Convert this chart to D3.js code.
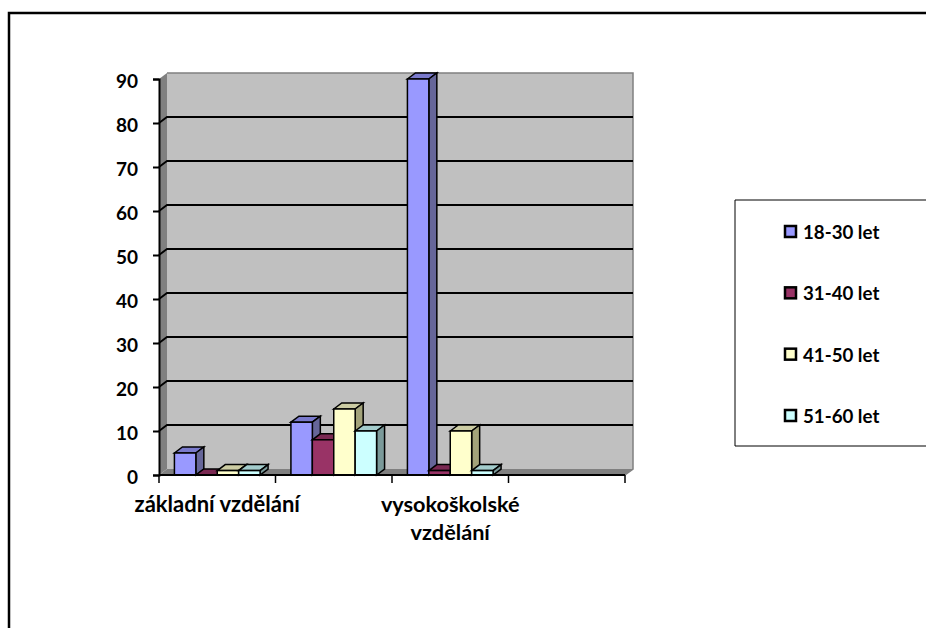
<!DOCTYPE html>
<html>
<head>
<meta charset="utf-8">
<script src="https://d3js.org/d3.v7.min.js"></script>
<style>
html, body { margin: 0; padding: 0; background: #fff; }
svg { display: block; }
text { font-family: Lato, sans-serif; font-weight: 700; fill: #000; }
</style>
</head>
<body>
<script>
// data
var categories = ["základní vzdělání", "", "vysokoškolské vzdělání", " "];
var seriesNames = ["18-30 let", "31-40 let", "41-50 let", "51-60 let"];
var s1830 = [5, 12, 90, null];
var s3140 = [0, 8, 1, null];
var s4150 = [1, 15, 10, null];
var s5160 = [1, 10, 1, null];
var yTicks = [0, 10, 20, 30, 40, 50, 60, 70, 80, 90];
var colors = ["#9999ff", "#993366", "#ffffcc", "#ccffff"];
var tops = ["#7a7acc", "#7a2952", "#ccccA3", "#a3cccc"];
var sides = ["#666699", "#5c1f3d", "#a3a37a", "#7a9999"];

var allSeries = [s1830, s3140, s4150, s5160];
var depthX = 8, depthY = 6;

var svg = d3.select("body").append("svg")
    .attr("width", 926)
    .attr("height", 628);

// outer frame, runs off the right and bottom of the picture
svg.append("path")
    .attr("d", "M9,640V13H940")
    .attr("fill", "none")
    .attr("stroke", "#000")
    .attr("stroke-width", 2.5);

var x = d3.scaleBand().domain(categories).range([159, 625]);
var y = d3.scaleLinear().domain([0, 90]).range([475, 79]);
var bars = d3.scaleBand().domain(d3.range(4)).range([0, x.bandwidth()]).paddingOuter(0.72).paddingInner(0);

// walls
var x0 = x.range()[0], x1 = x.range()[1], y0 = y(0), yTop = y(90);
svg.append("polygon")
    .attr("points", [[x0, y0], [x0 + depthX, y0 - depthY], [x0 + depthX, yTop - depthY], [x0, yTop]].join(" "))
    .attr("fill", "#808080");
svg.append("rect")
    .attr("x", x0 + depthX).attr("y", yTop - depthY)
    .attr("width", x1 - x0).attr("height", y0 - yTop)
    .attr("fill", "#c0c0c0");
svg.append("polygon")
    .attr("points", [[x0, y0], [x0 + depthX, y0 - depthY], [x1 + depthX, y0 - depthY], [x1, y0]].join(" "))
    .attr("fill", "#808080");
svg.append("path")
    .attr("d", "M" + (x0 + depthX) + "," + (yTop - depthY) + "H" + (x1 + depthX) + "V" + (y0 - depthY) + "L" + x1 + "," + y0)
    .attr("fill", "none")
    .attr("stroke", "#808080")
    .attr("stroke-width", 1.5);

// gridlines, bent down the side wall
svg.selectAll(".grid")
    .data(yTicks.filter(function(d) { return d != 0 && d != 90; }))
    .enter()
    .append("path")
    .attr("class", "grid")
    .attr("d", function(d) {
        return "M" + x0 + "," + y(d) + "l" + depthX + "," + (-depthY) + "H" + (x1 + depthX);
    })
    .attr("fill", "none")
    .attr("stroke", "#000")
    .attr("stroke-width", 1.8);

// y axis
var yAxis = svg.append("g")
    .attr("transform", "translate(" + x0 + ",0)")
    .call(d3.axisLeft(y).tickValues(yTicks).tickSize(6).tickPadding(15));
yAxis.selectAll("path, line").attr("stroke", "#000").attr("stroke-width", 2);
yAxis.selectAll("text")
    .attr("font-size", 19)
    .attr("dy", "0.45em")
    .style("font-family", "Lato, sans-serif")
    .style("font-weight", 700);

// bars
function line3d(g, color, top, side, bx, bw, by, bh) {
    g.append("polygon")
        .attr("points", [[bx, by], [bx + depthX, by - depthY], [bx + bw + depthX, by - depthY], [bx + bw, by]].join(" "))
        .attr("fill", top).attr("stroke", "#000").attr("stroke-width", 1.5);
    g.append("polygon")
        .attr("points", [[bx + bw, by], [bx + bw + depthX, by - depthY], [bx + bw + depthX, by + bh - depthY], [bx + bw, by + bh]].join(" "))
        .attr("fill", side).attr("stroke", "#000").attr("stroke-width", 1.5);
    g.append("rect")
        .attr("x", bx).attr("y", by).attr("width", bw).attr("height", bh)
        .attr("fill", color).attr("stroke", "#000").attr("stroke-width", 1.5);
}

categories.forEach(function(c, i) {
    allSeries.forEach(function(s, j) {
        if (s[i] === null) return;
        line3d(svg.append("g"), colors[j], tops[j], sides[j],
            x(c) + bars(j), bars.bandwidth(), y(s[i]), y(0) - y(s[i]));
    });
});

// x axis
svg.append("line")
    .attr("x1", x0).attr("x2", x1).attr("y1", y0).attr("y2", y0)
    .attr("stroke", "#000").attr("stroke-width", 2);
svg.selectAll(".xtick")
    .data(categories.map(function(c) { return x(c); }).concat([x1]))
    .enter()
    .append("line")
    .attr("x1", function(d) { return d; })
    .attr("x2", function(d) { return d; })
    .attr("y1", y0)
    .attr("y2", y0 + 8)
    .attr("stroke", "#000")
    .attr("stroke-width", 1.5);

// category labels, every other one is skipped like in the original
svg.append("text")
    .attr("x", x(categories[0]) + x.bandwidth() / 2).attr("y", 512)
    .attr("text-anchor", "middle").attr("font-size", 22)
    .text(categories[0]);
var lab = svg.append("text")
    .attr("text-anchor", "middle").attr("font-size", 21.7);
categories[2].split(" ").forEach(function(w, i) {
    lab.append("tspan")
        .attr("x", x(categories[2]) + x.bandwidth() / 2)
        .attr("y", 512 + i * 28)
        .text(w);
});

// legend
svg.append("path")
    .attr("d", "M940,200H735V446H940")
    .attr("fill", "#fff")
    .attr("stroke", "#000")
    .attr("stroke-width", 1);

var legendY = d3.scalePoint().domain(seriesNames).range([232, 416]);
var item = svg.selectAll(".legend")
    .data(seriesNames)
    .enter()
    .append("g")
    .attr("class", "legend")
    .attr("transform", function(d) { return "translate(785,"+ legendY(d) + ")"; });
item.append("rect")
    .attr("x", 0).attr("y", -6).attr("width", 11).attr("height", 11)
    .attr("fill", function(d, i) { return colors[i]; })
    .attr("stroke", "#000").attr("stroke-width", 2.5);
item.append("text")
    .attr("x", 18).attr("y", 7)
    .attr("font-size", 18.7)
    .text(function(d) { return d; });
</script>
</body>
</html>
